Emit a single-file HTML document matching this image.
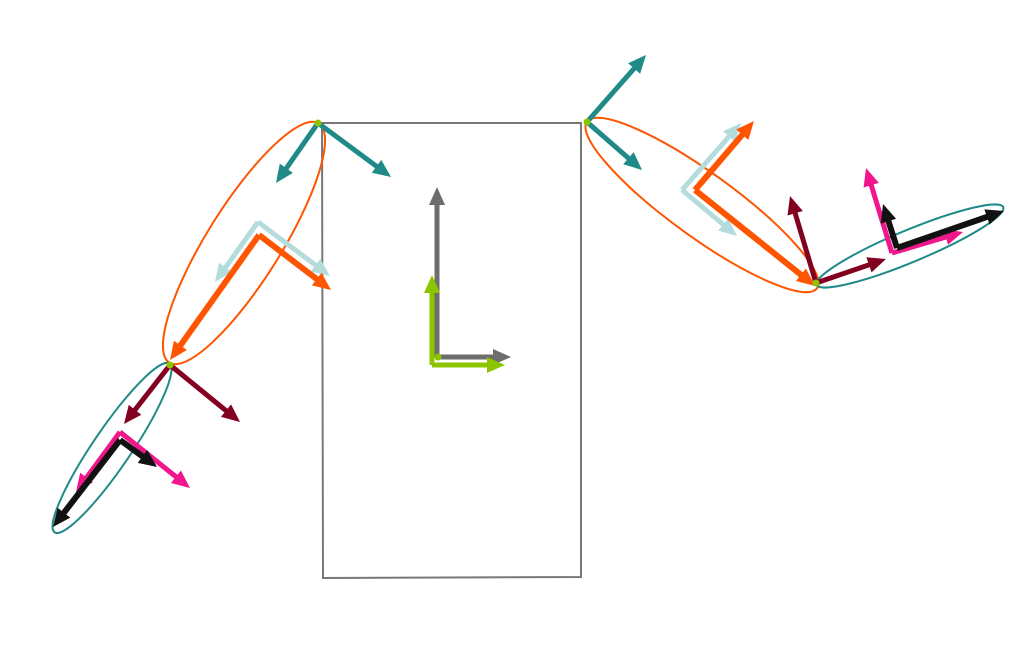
<!DOCTYPE html>
<html><head><meta charset="utf-8"><style>
html,body{margin:0;padding:0;background:#fff;}
svg{display:block;font-family:"Liberation Sans",sans-serif;}
</style></head><body>
<svg id="c" width="1034" height="660" viewBox="0 0 1034 660">
<polygon points="322,123 581,123 581,577 323,578" fill="none" stroke="#777" stroke-width="2"/>
<g id="ell"></g><g id="arr"></g><g id="dots"></g>
</svg>
<script>
// arrows: origin x, origin y, tip x, tip y
const arrowStarts = [[437,357],[437,357],[432,365],[432,365],
 [318,123],[318,123],[258,222],[258,222],[259,235],[259,235],
 [170,365],[170,365],[120,432],[120,432],[120,440],[120,440],
 [587,122],[587,122],[682,190],[682,190],[695,190],[695,190],
 [816,283],[816,283],[892,253],[892,253],[897,248],[897,248]];
const arrowTips = [[437,187],[511,357],[432,275],[505,365],
 [276,183],[391,177],[215,282],[330,276],[170,360],[331,290],
 [124,424],[240,422],[76,492],[190,488],[53,527],[157,467],
 [646,55],[642,170],[741,123],[737,236],[754,121],[815,286],
 [790,196],[886,259],[866,168],[963,232],[883,204],[1004,211]];
const arrowColors = ["#6d6d6d","#6d6d6d","#8cc400","#8cc400",
 "#1f8a87","#1f8a87","#b5dcdd","#b5dcdd","#ff5500","#ff5500",
 "#820020","#820020","#f0168c","#f0168c","#111111","#111111",
 "#1f8a87","#1f8a87","#b5dcdd","#b5dcdd","#ff5500","#ff5500",
 "#820020","#820020","#f0168c","#f0168c","#111111","#111111"];
const arrowWidths = [5,5,5,5,5,5,5,5,6,6,5,5,5,5,6,6,5,5,5,5,6,6,5,5,5,5,6,6];
const ellipseCenters = [[244,243],[112,448],[702,205],[910,246]];
const ellipseRadii = [[141,37],[102,19],[142,32],[101,16]];
const ellipseAngles = [-58,-55.8,35.9,-22.6];
const ellipseColors = ["#ff5500","#1f8a87","#ff5500","#1f8a87"];
const jointDots = [[318,123],[170,365],[587,122],[816,283],[438,357]];
const NS="http://www.w3.org/2000/svg";
const ge=document.getElementById('ell'),ga=document.getElementById('arr'),gd=document.getElementById('dots');
ellipseCenters.forEach((c,i)=>{
 const e=document.createElementNS(NS,'ellipse');
 
 
 e.setAttribute('cx',c[0]);e.setAttribute('cy',c[1]);
 e.setAttribute('rx',ellipseRadii[i][0]);e.setAttribute('ry',ellipseRadii[i][1]);
 e.setAttribute('transform',`rotate(${ellipseAngles[i]} ${c[0]} ${c[1]})`);
 e.setAttribute('fill','none');e.setAttribute('stroke',ellipseColors[i]);e.setAttribute('stroke-width','2');
 ge.appendChild(e);
});
arrowStarts.forEach((s,i)=>{
 const t=arrowTips[i],dx=t[0]-s[0],dy=t[1]-s[1],L=Math.hypot(dx,dy),ux=dx/L,uy=dy/L;
 const hl=18,hw=8,bx=t[0]-ux*hl,by=t[1]-uy*hl;
 const g=document.createElementNS(NS,'g');
 
 
 const l=document.createElementNS(NS,'line');
 l.setAttribute('x1',s[0]);l.setAttribute('y1',s[1]);l.setAttribute('x2',bx+ux*2);l.setAttribute('y2',by+uy*2);
 l.setAttribute('stroke',arrowColors[i]);l.setAttribute('stroke-width',arrowWidths[i]);
 const p=document.createElementNS(NS,'polygon');
 p.setAttribute('points',`${t[0]},${t[1]} ${bx-uy*hw},${by+ux*hw} ${bx+uy*hw},${by-ux*hw}`);
 p.setAttribute('fill',arrowColors[i]);
 g.appendChild(l);g.appendChild(p);ga.appendChild(g);
});
jointDots.forEach(d=>{
 const c=document.createElementNS(NS,'circle');
 
 
 c.setAttribute('cx',d[0]);c.setAttribute('cy',d[1]);c.setAttribute('r',3.5);
 c.setAttribute('fill','#8cc400');
 gd.appendChild(c);
});
</script>
</body></html>
